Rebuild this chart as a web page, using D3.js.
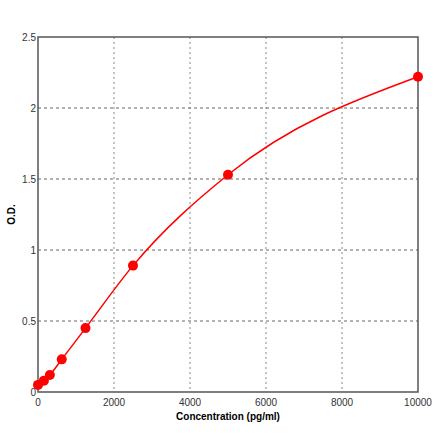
<!DOCTYPE html>
<html><head><meta charset="utf-8">
<script src="https://cdn.jsdelivr.net/npm/d3@7"></script>
<style>body{margin:0;background:#fff}text{font-family:"Liberation Sans",Arial,sans-serif}</style>
</head><body>
<svg id="c" width="440" height="441"></svg>
<script>
// standard curve data
var conc = [0, 156, 312, 625, 1250, 2500, 5000, 10000];
var od = [0.05, 0.08, 0.12, 0.23, 0.45, 0.89, 1.53, 2.22];
var xTicks = [0, 2000, 4000, 6000, 8000, 10000];
var yTicks = [0, 0.5, 1, 1.5, 2, 2.5];

var svg = d3.select("#c");
var m = {l: 38, r: 22, t: 37, b: 49};
var w = 440 - m.l - m.r, h = 441 - m.t - m.b;
var x = d3.scaleLinear().domain([0, 10000]).range([m.l, m.l + w]);
var y = d3.scaleLinear().domain([0, 2.5]).range([m.t + h, m.t]);

// grid
svg.selectAll(".gx").data(xTicks.slice(1, -1)).enter().append("line")
	.attr("x1", x).attr("x2", x).attr("y1", m.t).attr("y2", m.t + h)
	.attr("stroke", "#888").attr("stroke-dasharray", "2,3");
svg.selectAll(".gy").data(yTicks.slice(1, -1)).enter().append("line")
	.attr("y1", y).attr("y2", y).attr("x1", m.l).attr("x2", m.l + w)
	.attr("stroke", "#666").attr("stroke-dasharray", "3,3");

// frame
svg.append("rect").attr("x", m.l).attr("y", m.t).attr("width", w).attr("height", h)
	.attr("fill", "none").attr("stroke", "#555").attr("stroke-width", 1.5);

// tick labels
svg.selectAll(".tx").data(xTicks).enter().append("text")
	.attr("x", x).attr("y", m.t + h + 14).attr("text-anchor", "middle")
	.attr("font-size", 10).attr("fill", "#333").text(function(d) { return d; });
svg.selectAll(".ty").data(yTicks).enter().append("text")
	.attr("x", m.l - 2).attr("y", function(d) { return y(d) + 4; }).attr("text-anchor", "end")
	.attr("font-size", 10).attr("fill", "#333").text(function(d) { return d; });

// axis titles
svg.append("text").attr("x", m.l + w / 2).attr("y", m.t + h + 28).attr("text-anchor", "middle")
	.attr("font-size", 10).attr("font-weight", "bold").text("Concentration (pg/ml)");
svg.append("text").attr("transform", "translate(15," + (m.t + h / 2) + ") rotate(-90)")
	.attr("text-anchor", "middle").attr("font-size", 10).attr("font-weight", "bold").text("O.D.");

// curve
var pts = conc.map(function(c, i) { return [c, od[i]]; });
var line = d3.line().x(function(d) { return x(d[0]); }).y(function(d) { return y(d[1]); })
	.curve(d3.curveMonotoneX);
svg.append("path").attr("d", line(pts)).attr("fill", "none").attr("stroke", "#f00").attr("stroke-width", 1.5);
svg.selectAll(".pt").data(pts).enter().append("circle")
	.attr("cx", function(d) { return x(d[0]); }).attr("cy", function(d) { return y(d[1]); })
	.attr("r", 5).attr("fill", "#f00");
</script>
</body></html>
